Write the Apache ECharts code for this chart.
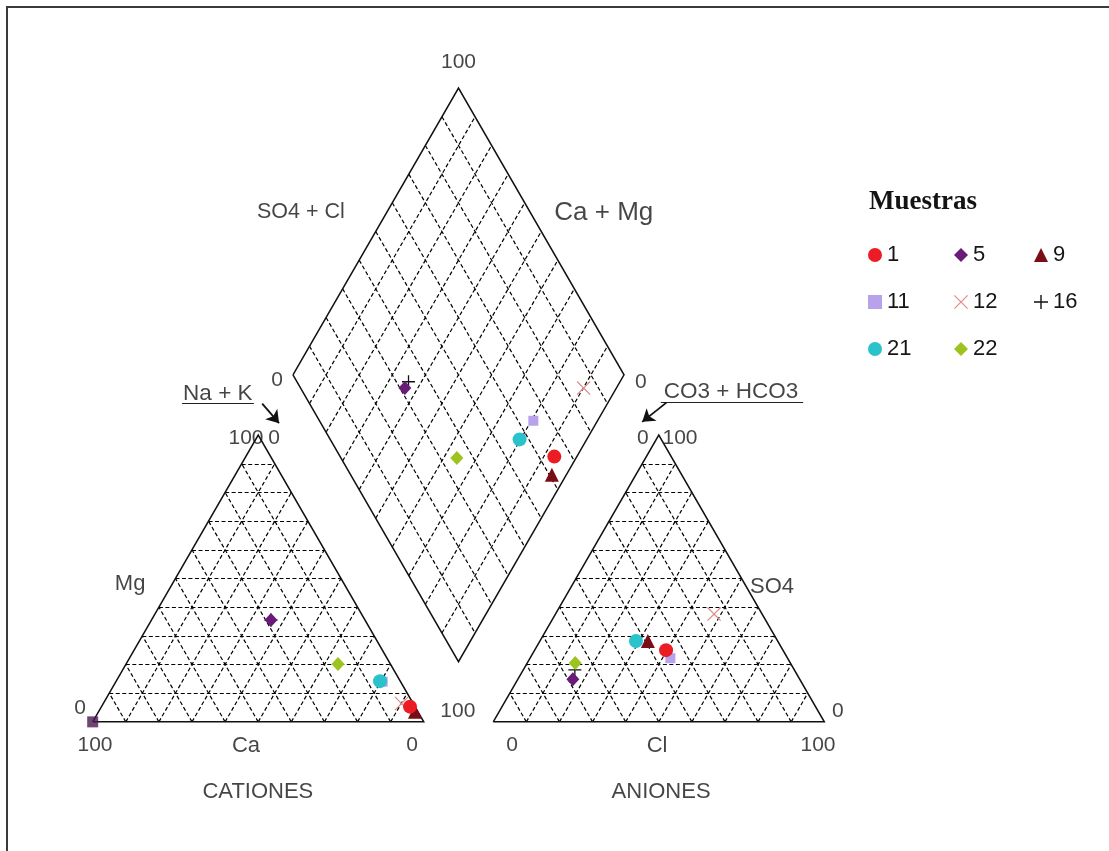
<!DOCTYPE html>
<html>
<head>
<meta charset="utf-8">
<script src="https://cdn.jsdelivr.net/npm/echarts@6/dist/echarts.min.js"></script>
<style>
  html, body { margin: 0; padding: 0; background: #ffffff; }
  #chart { width: 1109px; height: 851px; }
</style>
</head>
<body>
<div id="chart"></div>
<script>
// Composición iónica de las muestras (% meq)
const muestras = ['1', '5', '9', '11', '12', '16', '21', '22'];
// cationes
const ca   = [1.5, 28.4, 0.9, 5.4, 3.5, 28.4, 6.1, 15.8];
const mg   = [5.3, 35.5, 3.5, 14.0, 6.4, 35.5, 14.2, 20.2];
const naK  = [93.2, 36.1, 95.6, 80.6, 90.1, 36.1, 79.7, 64.0];
// aniones
const hco3 = [35.3, 68.5, 39.2, 35.4, 14.5, 66.3, 42.8, 65.0];
const so4  = [25.0, 14.9, 28.2, 22.2, 37.6, 18.1, 28.2, 20.5];
const cl   = [39.7, 16.6, 32.6, 42.4, 47.9, 15.6, 29.0, 14.5];
// punto sin entrada de leyenda (vértice de Ca)
const extraCa  = [100];
const extraMg  = [0];
const extraNaK = [0];
// divisiones de la malla (%)
const divisiones = [10, 20, 30, 40, 50, 60, 70, 80, 90];
// rótulos de los extremos de escala
const tickMin = '0';
const tickMax = '100';

// ---- geometría del diagrama de Piper (lado de triángulo = 100) ----
const H = Math.sqrt(3) / 2;
const GAP = 21;              // separación entre triángulos
const X0 = 100 + GAP;        // origen del triángulo de aniones

function cationXY(m, n) { return [n + m / 2, m * H]; }
function anionXY(s, c) { return [X0 + c + s / 2, s * H]; }
function rombXY(n, s) { return [(n + X0 + s) / 2, (X0 + s - n) * H]; }

// ---- malla ----
const malla = [];
divisiones.forEach(function (k) {
  // triángulo de cationes
  malla.push({ coords: [cationXY(k, 0), cationXY(k, 100 - k)] });
  malla.push({ coords: [cationXY(0, k), cationXY(100 - k, k)] });
  malla.push({ coords: [cationXY(0, 100 - k), cationXY(100 - k, 0)] });
  // triángulo de aniones
  malla.push({ coords: [anionXY(k, 0), anionXY(k, 100 - k)] });
  malla.push({ coords: [anionXY(0, k), anionXY(100 - k, k)] });
  malla.push({ coords: [anionXY(0, 100 - k), anionXY(100 - k, 0)] });
  // rombo
  malla.push({ coords: [rombXY(k, 0), rombXY(k, 100)] });
  malla.push({ coords: [rombXY(0, k), rombXY(100, k)] });
});

const contornos = [
  { coords: [cationXY(0, 0), cationXY(0, 100), cationXY(100, 0), cationXY(0, 0)] },
  { coords: [anionXY(0, 0), anionXY(0, 100), anionXY(100, 0), anionXY(0, 0)] },
  { coords: [rombXY(0, 0), rombXY(100, 0), rombXY(100, 100), rombXY(0, 100), rombXY(0, 0)] }
];

// ---- símbolos ----
const CRUZ = 'path://M0,1.2 L1.2,0 L10,8.8 L18.8,0 L20,1.2 L11.2,10 L20,18.8 L18.8,20 L10,11.2 L1.2,20 L0,18.8 L8.8,10 Z';
const MAS = 'path://M9,0 H11 V9 H20 V11 H11 V20 H9 V11 H0 V9 H9 Z';
const estilo = {
  '1':  { symbol: 'circle',   size: 14,       color: '#ec1c24' },
  '5':  { symbol: 'diamond',  size: [13, 14], color: '#6a1a78' },
  '9':  { symbol: 'triangle', size: 14,       color: '#7a0d16' },
  '11': { symbol: 'rect',     size: 10,       color: '#b9a2ec' },
  '12': { symbol: CRUZ,       size: 14,       color: '#dd8a88' },
  '16': { symbol: MAS,        size: 13,       color: '#111111' },
  '21': { symbol: 'circle',   size: 14,       color: '#2ac2cb' },
  '22': { symbol: 'diamond',  size: [13, 14], color: '#9cc31e' }
};
// orden de dibujo (los últimos quedan encima)
const ordenDibujo = ['9', '12', '11', '21', '1', '16', '5', '22'];

const seriesMuestras = ordenDibujo.map(function (nombre) {
  const i = muestras.indexOf(nombre);
  const st = estilo[nombre];
  const sAn = so4[i] + cl[i];
  return {
    type: 'scatter',
    name: nombre,
    symbol: st.symbol,
    symbolSize: st.size,
    itemStyle: { color: st.color, opacity: 1 },
    z: 5,
    data: [cationXY(mg[i], naK[i]), anionXY(so4[i], cl[i]), rombXY(naK[i], sAn)]
  };
});

const serieExtra = {
  type: 'scatter',
  name: 'extra',
  symbol: 'rect',
  symbolSize: 11,
  itemStyle: { color: '#4a1650' },
  z: 5,
  data: extraCa.map(function (_, i) { return cationXY(extraMg[i], extraNaK[i]); })
};

// ---- rótulos ----
const FONT = 'Liberation Sans';
function rotulo(texto, x, y, size) {
  return {
    value: [x, y],
    label: {
      show: true, position: 'inside', formatter: texto,
      fontFamily: FONT, fontSize: size || 21, color: '#161616'
    }
  };
}
const rotulos = [
  rotulo(tickMax, 110.5, 199.2),
  rotulo('SO4 + Cl', 62.9, 154, 21.5),
  rotulo('Ca + Mg', 154.4, 153.7, 26),
  rotulo(tickMin, 55.7, 103.2),
  rotulo(tickMin, 165.6, 102.6),
  rotulo('Na + K', 37.8, 99.2, 22.5),
  rotulo('CO3 + HCO3', 192.8, 99.6, 22.5),
  rotulo(tickMax, 46.3, 85.7),
  rotulo(tickMin, 54.8, 85.7),
  rotulo(tickMin, 166.2, 85.7),
  rotulo(tickMax, 177.4, 85.7),
  rotulo('Mg', 11.3, 41.6, 22),
  rotulo('SO4', 205.2, 40.7, 22),
  rotulo(tickMin, -3.8, 4.2),
  rotulo(tickMax, 110.3, 3.3),
  rotulo(tickMin, 225.1, 3.3),
  rotulo(tickMax, 0.7, -7.2),
  rotulo('Ca', 46.3, -7.2, 22),
  rotulo(tickMin, 96.5, -7.2),
  rotulo(tickMin, 126.7, -7.2),
  rotulo('Cl', 170.5, -7.2, 22),
  rotulo(tickMax, 219.1, -7.2),
  rotulo('CATIONES', 49.9, -21.1, 22),
  rotulo('ANIONES', 171.7, -21.1, 22)
];
const subrayados = [
  { coords: [[27.0, 96.1], [48.7, 96.1]] },
  { coords: [[171.6, 96.4], [214.6, 96.4]] }
];
const flechas = [
  { coords: [[51.2, 96.1], [56.3, 90.2]] },
  { coords: [[173.3, 96.4], [166.0, 90.6]] }
];

const chart = echarts.init(document.getElementById('chart'), null, { renderer: 'canvas' });

const legendBase = {
  orient: 'vertical',
  itemWidth: 14,
  itemHeight: 14,
  itemGap: 25,
  top: 239,
  selectedMode: false,
  textStyle: { fontFamily: FONT, fontSize: 22, color: '#161616', lineHeight: 22 }
};

chart.setOption({
  animation: false,
  backgroundColor: '#ffffff',
  title: {
    text: 'Muestras',
    left: 864,
    top: 184,
    textStyle: { fontFamily: 'Liberation Serif', fontWeight: 'bold', fontSize: 27, color: '#141414' }
  },
  legend: [
    Object.assign({}, legendBase, { left: 863, data: ['1', '11', '21'] }),
    Object.assign({}, legendBase, { left: 949, data: ['5', '12', '22'] }),
    Object.assign({}, legendBase, { left: 1029, data: ['9', '16'] })
  ],
  grid: { left: 0, right: 0, top: 0, bottom: 0 },
  xAxis: { type: 'value', min: -28, max: 307, show: false },
  yAxis: { type: 'value', min: -39, max: 218, show: false },
  graphic: [{
    type: 'rect',
    shape: { x: 7, y: 7, width: 1300, height: 1000 },
    style: { fill: 'none', stroke: '#3a3a3a', lineWidth: 2 },
    silent: true
  }],
  series: [
    {
      type: 'lines', coordinateSystem: 'cartesian2d', silent: true, z: 1,
      lineStyle: { color: '#000000', width: 1.2, type: [4, 2.5], opacity: 1 },
      data: malla
    },
    {
      type: 'lines', coordinateSystem: 'cartesian2d', polyline: true, silent: true, z: 2,
      lineStyle: { color: '#111111', width: 1.5, opacity: 1 },
      data: contornos
    },
    {
      type: 'lines', coordinateSystem: 'cartesian2d', silent: true, z: 2,
      lineStyle: { color: '#222222', width: 1.2, opacity: 1 },
      data: subrayados
    },
    {
      type: 'lines', coordinateSystem: 'cartesian2d', silent: true, z: 2,
      symbol: ['none', 'arrow'], symbolSize: 12,
      lineStyle: { color: '#111111', width: 1.8, opacity: 1 },
      data: flechas
    },
    {
      type: 'scatter', name: 'rotulos', silent: true, symbolSize: 0, z: 3,
      data: rotulos
    },
    serieExtra
  ].concat(seriesMuestras)
});
</script>
</body>
</html>
